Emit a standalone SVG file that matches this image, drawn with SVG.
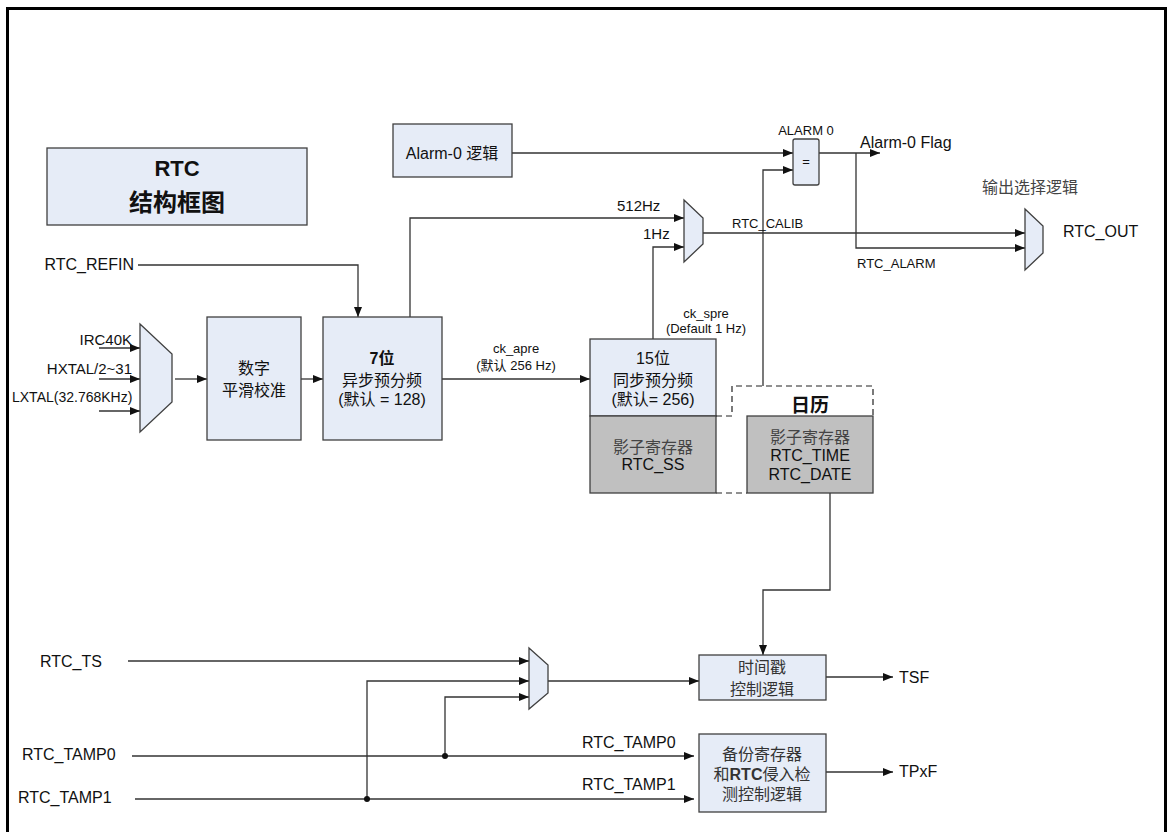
<svg xmlns="http://www.w3.org/2000/svg" width="1173" height="832" viewBox="0 0 1173 832">
<defs>
<marker id="arr" viewBox="0 0 10 8" refX="10" refY="4" markerWidth="10" markerHeight="8" markerUnits="userSpaceOnUse" orient="auto">
<path d="M0,0 L10,4 L0,8 Z" fill="#111"/>
</marker>
</defs>
<style>
text{font-family:"Liberation Sans","Noto Sans CJK SC",Arial,sans-serif;fill:#111}
.box{fill:#E6ECF7;stroke:#404040;stroke-width:1.3}
.gray{fill:#C0C0C0;stroke:#404040;stroke-width:1.3}
.mux{fill:#E6ECF7;stroke:#404040;stroke-width:1.3}
.ln{fill:none;stroke:#333;stroke-width:1.3}
.ar{fill:none;stroke:#333;stroke-width:1.3;marker-end:url(#arr)}
.dash{fill:none;stroke:#222;stroke-width:1.2;stroke-dasharray:6,4}
.t16{font-size:16px}
.t15{font-size:15px}
.t13{font-size:13px}
.mid{text-anchor:middle}
</style>
<rect x="7.5" y="8.5" width="1158" height="830" fill="#fff" stroke="#000" stroke-width="3"/>

<g id="title">
<rect class="box" x="47" y="148" width="260" height="77"/>
<text x="177" y="176" class="mid" font-size="22" font-weight="bold">RTC</text>
<text x="177" y="211" class="mid" font-size="24" font-weight="bold">结构框图</text>
</g>

<g id="connectors">
<!-- left inputs -->
<line class="ar" x1="99" y1="348" x2="140" y2="348"/>
<line class="ar" x1="99" y1="379" x2="140" y2="379"/>
<line class="ar" x1="99" y1="411" x2="140" y2="411"/>
<line class="ar" x1="175" y1="379" x2="207" y2="379"/>
<line class="ar" x1="301" y1="379" x2="323" y2="379"/>
<polyline class="ar" points="138,265 358,265 358,317"/>
<polyline class="ar" points="410,317 410,218 684,218"/>
<line class="ar" x1="442" y1="379" x2="590" y2="379"/>
<polyline class="ar" points="653,339 653,247 684,247"/>
<line class="ar" x1="703" y1="233" x2="1025" y2="233"/>
<line class="ar" x1="512" y1="153" x2="793" y2="153"/>
<polyline class="ar" points="763,386 763,170 793,170"/>
<line class="ar" x1="819" y1="153" x2="880" y2="153"/>
<polyline class="ar" points="856,153 856,248 1025,248"/>
<polyline class="ar" points="830,493 830,590 763,590 763,655"/>
<!-- bottom -->
<line class="ar" x1="128" y1="661" x2="529" y2="661"/>
<polyline class="ar" points="367,799 367,681 529,681"/>
<polyline class="ar" points="445,756 445,697 529,697"/>
<line class="ar" x1="548" y1="681" x2="699" y2="681"/>
<line class="ar" x1="132" y1="756" x2="694" y2="756"/>
<line class="ar" x1="135" y1="799" x2="694" y2="799"/>
<circle cx="445" cy="756" r="3" fill="#111"/>
<circle cx="367" cy="799" r="3" fill="#111"/>
<line class="ar" x1="826" y1="677" x2="893" y2="677"/>
<line class="ar" x1="826" y1="772" x2="893" y2="772"/>
</g>

<g id="labels">
<text x="138" y="270" class="t16" text-anchor="end" dx="-4">RTC_REFIN</text>
<text x="132" y="345" class="t15" text-anchor="end">IRC40K</text>
<text x="132" y="374" class="t15" text-anchor="end">HXTAL/2~31</text>
<text x="12" y="402" font-size="14">LXTAL(32.768KHz)</text>
<text x="516" y="353" class="t13 mid">ck_apre</text>
<text x="516" y="370" class="t13 mid">(默认 256 Hz)</text>
<text x="706" y="318" class="t13 mid">ck_spre</text>
<text x="706" y="333" class="t13 mid">(Default 1 Hz)</text>
<text x="617" y="211" class="t15">512Hz</text>
<text x="643" y="239" class="t15">1Hz</text>
<text x="732" y="228" class="t13">RTC_CALIB</text>
<text x="857" y="268" class="t13">RTC_ALARM</text>
<text x="806" y="135" class="t13 mid">ALARM 0</text>
<text x="860" y="148" class="t16">Alarm-0 Flag</text>
<text x="982" y="193" class="t16" fill="#444" style="fill:#444">输出选择逻辑</text>
<text x="1063" y="237" class="t16">RTC_OUT</text>
<text x="40" y="667" class="t16">RTC_TS</text>
<text x="22" y="760" class="t16">RTC_TAMP0</text>
<text x="18" y="803" class="t16">RTC_TAMP1</text>
<text x="582" y="748" class="t16">RTC_TAMP0</text>
<text x="582" y="790" class="t16">RTC_TAMP1</text>
<text x="899" y="683" class="t16">TSF</text>
<text x="899" y="777" class="t16">TPxF</text>
</g>

<g id="mux-clk">
<polygon class="mux" points="140,324 172,354 172,402 140,432"/>
</g>
<g id="mux-512">
<polygon class="mux" points="684,200 703,218 703,244 684,262"/>
</g>
<g id="mux-out">
<polygon class="mux" points="1025,209 1043,226 1043,253 1025,270"/>
</g>
<g id="mux-ts">
<polygon class="mux" points="529,648 548,665 548,693 529,709"/>
</g>

<g id="smooth-cal">
<rect class="box" x="207" y="317" width="94" height="123"/>
<text x="254" y="374" class="t16 mid" fill="#333">数字</text>
<text x="254" y="396" class="t16 mid" fill="#333">平滑校准</text>
</g>

<g id="async-presc">
<rect class="box" x="323" y="317" width="119" height="123"/>
<text x="382" y="364" class="t16 mid" font-weight="bold">7位</text>
<text x="382" y="386" class="t16 mid">异步预分频</text>
<text x="382" y="405" class="t16 mid">(默认 = 128)</text>
</g>

<g id="alarm-logic">
<rect class="box" x="393" y="124" width="119" height="53"/>
<text x="452" y="159" class="t16 mid">Alarm-0 逻辑</text>
</g>

<g id="alarm-cmp">
<rect class="box" x="793" y="139" width="26" height="46" rx="2"/>
<text x="806" y="166" class="t13 mid">=</text>
</g>

<g id="sync-presc">
<rect class="box" x="590" y="339" width="126" height="77"/>
<rect class="gray" x="590" y="416" width="126" height="77"/>
<text x="653" y="364" class="t16 mid">15位</text>
<text x="653" y="386" class="t16 mid">同步预分频</text>
<text x="653" y="405" class="t16 mid">(默认= 256)</text>
<text x="653" y="453" class="t16 mid" style="fill:#444">影子寄存器</text>
<text x="653" y="470" class="t16 mid">RTC_SS</text>
</g>

<g id="calendar">
<path class="dash" d="M716,416 H732 V386 H873 V416 M716,493 H747"/>
<text x="810" y="412" class="mid" font-size="19" font-weight="bold">日历</text>
<rect class="gray" x="747" y="416" width="126" height="77"/>
<text x="810" y="443" class="t16 mid" style="fill:#444">影子寄存器</text>
<text x="810" y="461" class="t16 mid">RTC_TIME</text>
<text x="810" y="480" class="t16 mid">RTC_DATE</text>
</g>

<g id="timestamp">
<rect class="box" x="699" y="655" width="127" height="45"/>
<text x="762" y="673" class="t16 mid" style="fill:#333">时间戳</text>
<text x="762" y="695" class="t16 mid" style="fill:#333">控制逻辑</text>
</g>

<g id="backup">
<rect class="box" x="699" y="734" width="127" height="78"/>
<text x="762" y="760" class="t16 mid" style="fill:#333">备份寄存器</text>
<text x="762" y="780" class="t16 mid" style="fill:#333">和<tspan font-weight="bold">RTC</tspan>侵入检</text>
<text x="762" y="800" class="t16 mid" style="fill:#333">测控制逻辑</text>
</g>
</svg>
